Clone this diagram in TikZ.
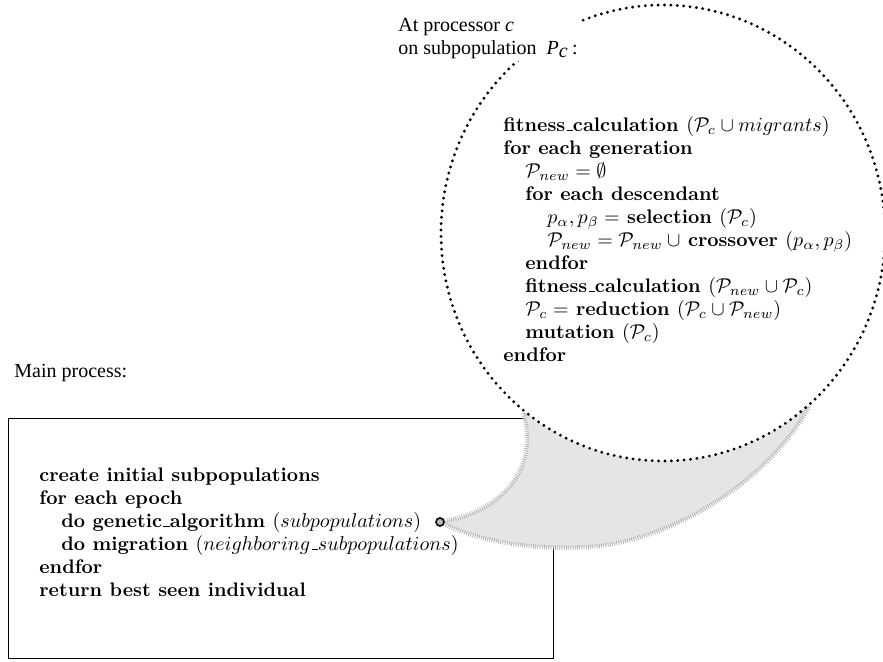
\documentclass[tikz,border=0pt]{standalone}
\usepackage{fontspec}
\newfontfamily\timesfont{Liberation Serif}
\usetikzlibrary{shapes.geometric,backgrounds}
\newcommand\ind{\hspace*{11pt}}
\newcommand\usc{\kern.06em\vbox{\hrule width.33em height.5pt}}

\begin{document}
\begin{tikzpicture}[x=0.5pt, y=-0.5pt,
  algo/.style={inner sep=0pt, align=left, font=\bfseries\fontsize{9.8}{11.5}\selectfont},
  caption/.style={inner sep=1pt, align=left, font=\timesfont\fontsize{10}{11.5}\selectfont},
  dots/.style={line width=1.6pt, line cap=round, dash pattern=on 0pt off 3.2pt},
  fuzz/.style={draw=gray!65, line width=2.2pt, dash pattern=on 0.35pt off 0.75pt},
]
  \useasboundingbox (0,0) rectangle (883,662);

  \node[ellipse, draw, dots, fill=white, minimum width=222pt, minimum height=228pt] (proc) at (663,233) {};
  \node[algo, anchor=north west] (slave) at (503,116) {%
    fitness\usc calculation $(\mathcal{P}_c \cup migrants)$\\
    for each generation\\
    \ind $\mathcal{P}_{new} = \emptyset$\\
    \ind for each descendant\\
    \ind\ind $p_\alpha, p_\beta =$ selection $(\mathcal{P}_c)$\\
    \ind\ind $\mathcal{P}_{new} = \mathcal{P}_{new}\mskip\medmuskip\cup$ crossover $(p_\alpha, p_\beta)$\\
    \ind endfor\\
    \ind fitness\usc calculation $(\mathcal{P}_{new} \cup \mathcal{P}_c)$\\
    \ind $\mathcal{P}_c =$ reduction $(\mathcal{P}_c \cup \mathcal{P}_{new})$\\
    \ind mutation $(\mathcal{P}_c)$\\
    endfor};
  \node[caption, fill=white, anchor=north west] (where) at (396,16)
    {At processor \textit{c}\\on subpopulation\ \ \textit{P}$_{\textit{c}}$\,:};

  \node[caption, anchor=west] (main) at (12,373) {Main process:};
  \node[algo, anchor=north west] (master) at (39,467) {%
    create initial subpopulations\\
    for each epoch\\
    \ind do genetic\usc algorithm $(subpopulations)$\\
    \ind do migration $(neighboring\usc subpopulations)$\\
    endfor\\
    return best seen individual};
  \node[circle, draw, fill=gray!55, line width=0.8pt, inner sep=0pt, minimum size=4pt] (hub) at (440,522) {};
  \coordinate (sag) at (600,546);

  \begin{pgfonlayer}{background}
    \draw[line width=0.5pt] (8,419) rectangle (553,658);
    \fill[gray!20] (hub.15) .. controls (500,512) and (540,470) .. (proc.232)
      -- (proc.310) .. controls (775,470) and (690,534) .. (sag)
      .. controls (540,552) and (480,542) .. (hub.-25) -- cycle;
    \draw[fuzz] (hub.15) .. controls (500,512) and (540,470) .. (proc.232);
    \draw[fuzz] (proc.310) .. controls (775,470) and (690,534) .. (sag)
      .. controls (540,552) and (480,542) .. (hub.-25);
  \end{pgfonlayer}
\end{tikzpicture}
\end{document}
